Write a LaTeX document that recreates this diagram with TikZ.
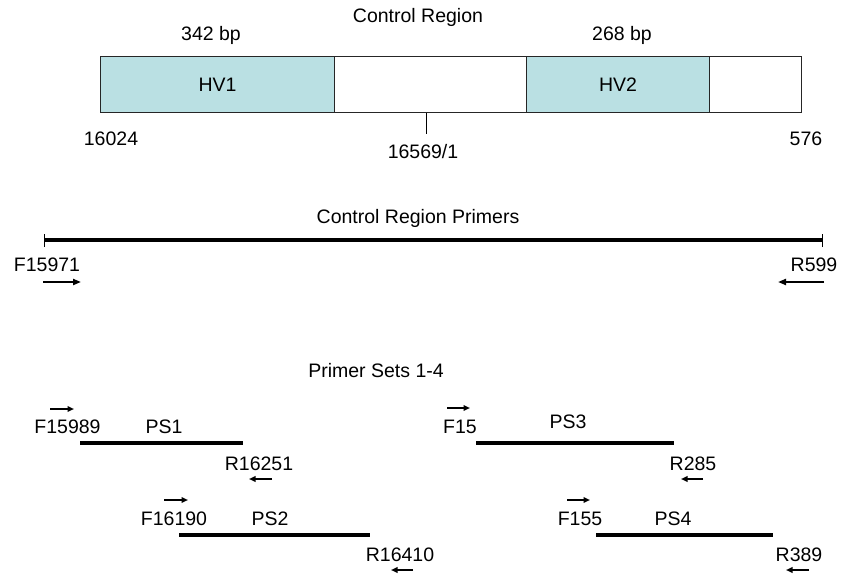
\documentclass[tikz,border=0pt]{standalone}
\usepackage{fontspec}
\setmainfont{Liberation Sans}
\usetikzlibrary{arrows.meta}
\definecolor{hvblue}{RGB}{186,224,227}
\begin{document}
\begin{tikzpicture}[x=1pt,y=-1pt,
  lbl/.style={font=\fontsize{19.5}{22}\selectfont, inner sep=0pt, anchor=base},
  region/.style={draw=black!85, line width=1pt, minimum height=56pt, inner sep=0pt, anchor=north west,
    font=\fontsize{19.5}{22}\selectfont},
  seg/.style={line width=3.3pt},
  tickline/.style={line width=1pt},
  bigarrow/.style={line width=2pt, -{Triangle[length=8pt,width=6pt]}},
  smallarrow/.style={line width=2pt, -{Triangle[length=6.5pt,width=5.5pt]}}]
\useasboundingbox (0,0) rectangle (841,578);

% ---- Control region box ----
\node[region, fill=hvblue, minimum width=234pt] (hv1) at (100,56) {HV1};
\node[region, fill=white, minimum width=192pt] (gap1) at (334,56) {};
\node[region, fill=hvblue, minimum width=183pt] (hv2) at (526,56) {HV2};
\node[region, fill=white, minimum width=92pt] (gap2) at (709,56) {};

\node[lbl] (crtitle) at (418,23) {Control Region};
\node[lbl] (bp1) at (211,41) {342 bp};
\node[lbl] (bp2) at (622,41) {268 bp};
\node[lbl] (p16024) at (111,145) {16024};
\node[lbl] (p576) at (806,145) {576};
\node[lbl] (p16569) at (423,158) {16569/1};
\coordinate (tickA) at (426,113);
\coordinate (tickB) at (426,134);
\draw[tickline] (tickA) -- (tickB);

% ---- Control region primers ----
\node[lbl] (crptitle) at (418,223) {Control Region Primers};
\coordinate (crL) at (44,240);
\coordinate (crR) at (822,240);
\draw[seg] (crL) -- (crR);
\draw[tickline] ([yshift=-7pt]crL) -- ([yshift=6pt]crL);
\draw[tickline] ([yshift=-7pt]crR) -- ([yshift=6pt]crR);
\node[lbl] (f15971) at (47,271) {F15971};
\node[lbl] (r599) at (814,271) {R599};
\coordinate (fa1) at (43,282); \coordinate (fa2) at (81,282);
\coordinate (ra1) at (824,282); \coordinate (ra2) at (778,282);
\draw[bigarrow] (fa1) -- (fa2);
\draw[bigarrow] (ra1) -- (ra2);

% ---- Primer sets ----
\node[lbl] (pstitle) at (376,377) {Primer Sets 1-4};

% PS1
\coordinate (ps1L) at (80,443); \coordinate (ps1R) at (243,443);
\draw[seg] (ps1L) -- (ps1R);
\node[lbl] (f15989) at (67.5,433) {F15989};
\node[lbl] (ps1) at (164,433) {PS1};
\node[lbl] (r16251) at (259,470) {R16251};
\coordinate (a1s) at (50,409); \coordinate (a1e) at (74,409);
\draw[smallarrow] (a1s) -- (a1e);
\coordinate (b1s) at (272,479); \coordinate (b1e) at (249,479);
\draw[smallarrow] (b1s) -- (b1e);

% PS2
\coordinate (ps2L) at (179,535); \coordinate (ps2R) at (370,535);
\draw[seg] (ps2L) -- (ps2R);
\node[lbl] (f16190) at (174,525) {F16190};
\node[lbl] (ps2) at (270,525) {PS2};
\node[lbl] (r16410) at (400,561) {R16410};
\coordinate (a2s) at (164,500); \coordinate (a2e) at (188,500);
\draw[smallarrow] (a2s) -- (a2e);
\coordinate (b2s) at (413,570); \coordinate (b2e) at (391,570);
\draw[smallarrow] (b2s) -- (b2e);

% PS3
\coordinate (ps3L) at (476,443); \coordinate (ps3R) at (674,443);
\draw[seg] (ps3L) -- (ps3R);
\node[lbl] (f15) at (460,433) {F15};
\node[lbl] (ps3) at (568,428) {PS3};
\node[lbl] (r285) at (693,470) {R285};
\coordinate (a3s) at (447,408); \coordinate (a3e) at (470,408);
\draw[smallarrow] (a3s) -- (a3e);
\coordinate (b3s) at (703,479); \coordinate (b3e) at (681,479);
\draw[smallarrow] (b3s) -- (b3e);

% PS4
\coordinate (ps4L) at (596,535); \coordinate (ps4R) at (773,535);
\draw[seg] (ps4L) -- (ps4R);
\node[lbl] (f155) at (580,525) {F155};
\node[lbl] (ps4) at (673,525) {PS4};
\node[lbl] (r389) at (799,561) {R389};
\coordinate (a4s) at (567,500); \coordinate (a4e) at (590,500);
\draw[smallarrow] (a4s) -- (a4e);
\coordinate (b4s) at (809,570); \coordinate (b4e) at (786,570);
\draw[smallarrow] (b4s) -- (b4e);
\end{tikzpicture}
\end{document}
